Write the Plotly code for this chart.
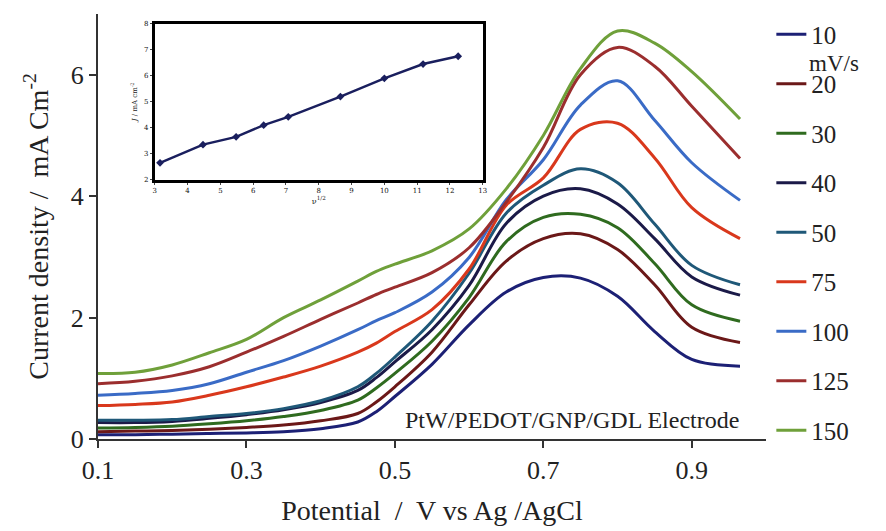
import plotly.graph_objects as go

# ---------------- data ----------------
potential = [0.10, 0.15, 0.20, 0.25, 0.30, 0.35, 0.40, 0.45, 0.475, 0.50, 0.55, 0.60,
             0.65, 0.70, 0.75, 0.80, 0.85, 0.90, 0.965]

scan_rates = ["10", "20", "30", "40", "50", "75", "100", "125", "150"]

j_10  = [0.07, 0.07, 0.08, 0.09, 0.10, 0.12, 0.17, 0.28, 0.45, 0.70, 1.23, 1.88, 2.42, 2.66, 2.65, 2.35, 1.77, 1.31, 1.20]
j_20  = [0.12, 0.13, 0.14, 0.16, 0.19, 0.23, 0.30, 0.42, 0.61, 0.86, 1.43, 2.21, 2.93, 3.30, 3.38, 3.12, 2.54, 1.84, 1.59]
j_30  = [0.18, 0.19, 0.21, 0.25, 0.30, 0.37, 0.47, 0.64, 0.84, 1.08, 1.61, 2.33, 3.25, 3.65, 3.70, 3.48, 2.89, 2.21, 1.94]
j_40  = [0.27, 0.27, 0.29, 0.34, 0.40, 0.48, 0.60, 0.80, 1.01, 1.27, 1.80, 2.53, 3.55, 4.00, 4.12, 3.87, 3.30, 2.67, 2.37]
j_50  = [0.31, 0.31, 0.32, 0.37, 0.42, 0.50, 0.63, 0.86, 1.08, 1.35, 1.94, 2.73, 3.72, 4.18, 4.45, 4.22, 3.54, 2.86, 2.54]
j_75  = [0.55, 0.57, 0.61, 0.72, 0.86, 1.02, 1.20, 1.43, 1.58, 1.77, 2.13, 2.80, 3.85, 4.30, 5.10, 5.20, 4.63, 3.81, 3.30]
j_100 = [0.72, 0.75, 0.80, 0.91, 1.10, 1.29, 1.53, 1.80, 1.95, 2.08, 2.42, 2.99, 3.94, 4.60, 5.50, 5.90, 5.25, 4.55, 3.93]
j_125 = [0.91, 0.95, 1.04, 1.19, 1.43, 1.69, 1.97, 2.24, 2.38, 2.50, 2.74, 3.15, 3.90, 4.80, 6.00, 6.45, 6.14, 5.48, 4.62]
j_150 = [1.08, 1.10, 1.22, 1.42, 1.64, 2.00, 2.29, 2.60, 2.76, 2.88, 3.10, 3.46, 4.12, 5.00, 6.10, 6.72, 6.52, 6.05, 5.27]

series = [j_10, j_20, j_30, j_40, j_50, j_75, j_100, j_125, j_150]
colors = ["#1c2075", "#6b1818", "#2f6b1f", "#1b1a48", "#1f5878",
          "#d9381c", "#3a6bc6", "#9b2e2e", "#6fa03a"]

# inset: peak current vs square root of scan rate
sqrt_rate = [3.16, 4.47, 5.48, 6.32, 7.07, 8.66, 10.0, 11.18, 12.25]
peak_j    = [2.65, 3.35, 3.65, 4.10, 4.42, 5.20, 5.90, 6.45, 6.75]

x_ticks = [0.1, 0.3, 0.5, 0.7, 0.9]
y_ticks = [0, 2, 4, 6]
inset_x_ticks = [3, 4, 5, 6, 7, 8, 9, 10, 11, 12, 13]
inset_y_ticks = [2, 3, 4, 5, 6, 7, 8]

SERIF = "Liberation Serif"

fig = go.Figure()

for name, ys, col in zip(scan_rates, series, colors):
    fig.add_trace(go.Scatter(
        x=potential, y=ys, mode="lines", name=name, legendgroup=name,
        line=dict(color=col, width=3, shape="spline", smoothing=1.0),
        xaxis="x", yaxis="y", hoverinfo="skip"))

fig.add_trace(go.Scatter(
    x=sqrt_rate, y=peak_j, mode="lines+markers", showlegend=False,
    line=dict(color="#1a1f5e", width=2.5),
    marker=dict(symbol="diamond", size=6, color="#1a1f5e"),
    xaxis="x2", yaxis="y2"))

fig.update_layout(
    width=886, height=531,
    margin=dict(l=98, r=120, t=10, b=90),
    paper_bgcolor="white", plot_bgcolor="white",
    font=dict(family=SERIF, color="#222222"),
    xaxis=dict(domain=[0, 1], range=[0.1, 1.0], tickvals=x_ticks,
               ticktext=[f"{v:.1f}" for v in x_ticks],
               showgrid=False, zeroline=False, showline=True,
               linecolor="#333333", linewidth=2, ticks="outside",
               ticklen=7, tickwidth=2, tickcolor="#333333",
               tickfont=dict(size=26, family=SERIF),
               title=dict(text="Potential  /  V vs Ag /AgCl",
                          font=dict(size=28, family=SERIF), standoff=16)),
    yaxis=dict(domain=[0, 1], range=[0, 7.0], tickvals=y_ticks,
               showgrid=False, zeroline=False, showline=True,
               linecolor="#333333", linewidth=2, ticks="outside",
               ticklen=7, tickwidth=2, tickcolor="#333333",
               tickfont=dict(size=26, family=SERIF),
               title=dict(text="Current density /  mA Cm<sup>-2</sup>",
                          font=dict(size=28, family=SERIF), standoff=14)),
    xaxis2=dict(domain=[0.085, 0.576], anchor="y2", range=[3, 13],
                tickvals=inset_x_ticks, showgrid=False, zeroline=False,
                showline=True, mirror=True, linecolor="black", linewidth=3,
                ticks="outside", ticklen=2, tickwidth=1,
                tickfont=dict(size=7, family="DejaVu Serif", color="#111111"),
                title=dict(text="ν<sup>1/2</sup>",
                           font=dict(size=8, family="DejaVu Serif"), standoff=2)),
    yaxis2=dict(domain=[0.61, 0.977], anchor="x2", range=[2, 8],
                tickvals=inset_y_ticks, showgrid=False, zeroline=False,
                showline=True, mirror=True, linecolor="black", linewidth=3,
                ticks="outside", ticklen=2, tickwidth=1,
                tickfont=dict(size=7, family="DejaVu Serif", color="#111111"),
                title=dict(text="<i>J</i> / mA cm<sup>-2</sup>",
                           font=dict(size=7, family="DejaVu Serif"), standoff=6)),
    legend=dict(x=1.008, y=1.006, xanchor="left", yanchor="top",
                font=dict(size=25, family=SERIF, color="#222222"),
                tracegroupgap=14.0, itemwidth=30, maxheight=525,
                bgcolor="rgba(0,0,0,0)"),
    annotations=[
        dict(text="PtW/PEDOT/GNP/GDL Electrode", xref="paper", yref="paper",
             x=0.962, y=0.044, xanchor="right", yanchor="middle",
             showarrow=False, font=dict(size=24, family=SERIF, color="#222222")),
        dict(text="mV/s", xref="paper", yref="paper",
             x=1.062, y=0.884, xanchor="left", yanchor="middle",
             showarrow=False, font=dict(size=23, family=SERIF, color="#222222")),
    ],
)

fig.write_html("out.html")
